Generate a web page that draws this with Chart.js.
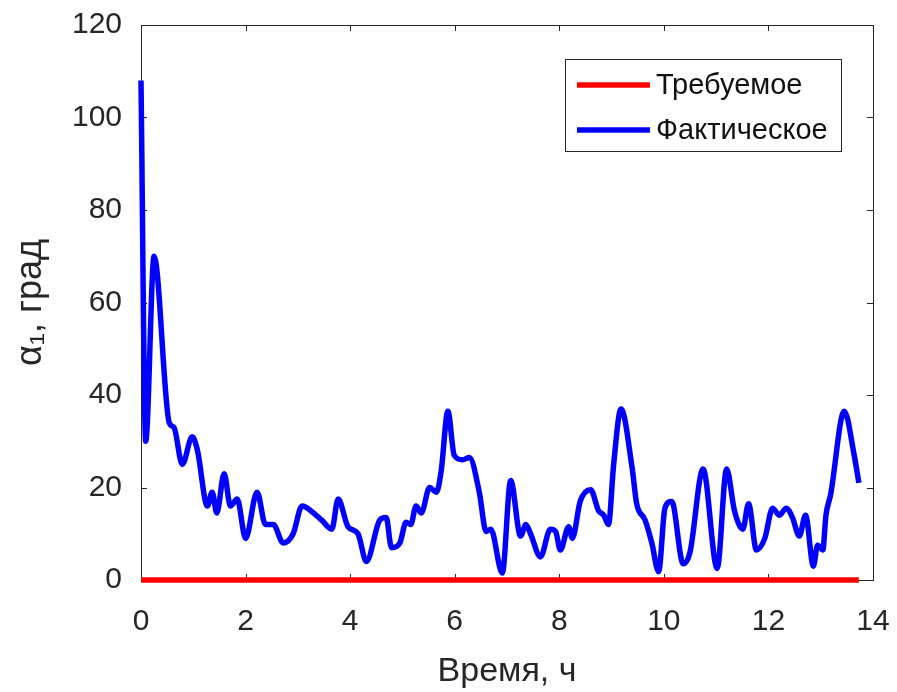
<!DOCTYPE html>
<html>
<head>
<meta charset="utf-8">
<script src="https://cdn.jsdelivr.net/npm/chart.js@4.4.1/dist/chart.umd.min.js"></script>
<style>
  html, body { margin: 0; padding: 0; background: #ffffff; }
  #wrap { width: 897px; height: 692px; }
</style>
</head>
<body>
<div id="wrap"><canvas id="c" width="897" height="692"></canvas></div>
<script>
// ---- data ----
const timeHours = [0, 0.09, 0.25, 0.54, 0.63, 0.79, 0.98, 1.08, 1.27, 1.36, 1.45, 1.59, 1.71, 1.84, 2.0, 2.22, 2.38, 2.53, 2.72, 2.91,
  3.08, 3.3, 3.45, 3.65, 3.77, 3.96, 4.15, 4.31, 4.57, 4.69, 4.79, 4.95, 5.07, 5.16, 5.26, 5.36, 5.52, 5.65, 5.74, 5.87,
  5.99, 6.15, 6.28, 6.47, 6.6, 6.69, 6.91, 7.07, 7.26, 7.36, 7.45, 7.64, 7.83, 7.93, 8.02, 8.18, 8.25, 8.4, 8.6, 8.75,
  8.85, 8.94, 9.04, 9.18, 9.39, 9.48, 9.64, 9.77, 9.9, 10.02, 10.15, 10.37, 10.5, 10.75, 11.02, 11.2, 11.35, 11.51, 11.62, 11.77,
  11.93, 12.08, 12.21, 12.34, 12.46, 12.59, 12.71, 12.86, 12.94, 13.04, 13.1, 13.19, 13.45, 13.64, 13.73];
const actualAlpha = [108, 30, 70, 34, 33, 25, 31, 28, 16, 19, 14.5, 23, 16, 17.5, 9, 19, 12, 12, 8, 10,
  16, 14.5, 13, 11, 17.5, 11.5, 10, 4, 13, 13.5, 7, 8, 12.5, 12, 16, 14.5, 20, 19, 23.5, 36.5,
  27, 26, 26.5, 19, 10.5, 11, 1.5, 21.5, 9.5, 12, 10, 5, 11, 10.5, 6.5, 11.5, 9, 17, 19.5, 15,
  14, 12, 25, 37, 24.5, 16.5, 13, 8, 1.8, 15.5, 17, 3.5, 6, 24, 2.5, 24, 15, 11, 16.5, 6.5,
  9, 15.5, 14, 15.5, 13.5, 9.5, 14, 3, 7.5, 6.5, 14, 18.5, 36.5, 27, 21];
const requiredTime = [0, 13.73];
const requiredAlpha = [0, 0];
const seriesNames = ['Требуемое', 'Фактическое'];
const xTickValues = [0, 2, 4, 6, 8, 10, 12, 14];
const yTickValues = [0, 20, 40, 60, 80, 100, 120];
const xTitle = 'Время, ч';
const yTitle = 'α₁, град';

const toPoints = (xs, ys) => xs.map((x, i) => ({ x: x, y: ys[i] }));

const TEXT = '#262626';
const FONT = "'Liberation Sans', Arial, Helvetica, sans-serif";

const framePlugin = {
  id: 'frame',
  beforeDatasetsDraw(chart) {
    const { ctx, chartArea: a, scales } = chart;
    ctx.save();
    ctx.strokeStyle = TEXT;
    ctx.lineWidth = 1;
    ctx.strokeRect(Math.round(a.left) + 0.5, Math.round(a.top) + 0.5,
      Math.round(a.right - a.left), Math.round(a.bottom - a.top));
    const tl = 6;
    ctx.beginPath();
    xTickValues.forEach(v => {
      const px = Math.round(scales.x.getPixelForValue(v)) + 0.5;
      ctx.moveTo(px, a.bottom); ctx.lineTo(px, a.bottom - tl);
      ctx.moveTo(px, a.top); ctx.lineTo(px, a.top + tl);
    });
    yTickValues.forEach(v => {
      const py = Math.round(scales.y.getPixelForValue(v)) + 0.5;
      ctx.moveTo(a.left, py); ctx.lineTo(a.left + tl, py);
      ctx.moveTo(a.right, py); ctx.lineTo(a.right - tl, py);
    });
    ctx.stroke();
    ctx.restore();
  },
  afterDraw(chart) {
    const { ctx } = chart;
    const ds = chart.data.datasets;
    ctx.save();
    const bx = 565.5, by = 59.5, bw = 276, bh = 92;
    ctx.fillStyle = '#ffffff';
    ctx.fillRect(bx, by, bw, bh);
    ctx.strokeStyle = TEXT;
    ctx.lineWidth = 1;
    ctx.strokeRect(bx, by, bw, bh);
    const rows = [85, 130];
    ctx.font = '29px ' + FONT;
    ctx.textBaseline = 'middle';
    ctx.textAlign = 'left';
    ds.forEach((d, i) => {
      ctx.strokeStyle = d.borderColor;
      ctx.lineWidth = 5.5;
      ctx.beginPath();
      ctx.moveTo(577, rows[i]);
      ctx.lineTo(650, rows[i]);
      ctx.stroke();
      ctx.fillStyle = '#111111';
      ctx.fillText(d.label, 656, rows[i] + 1);
    });
    ctx.restore();
  }
};

new Chart(document.getElementById('c'), {
  type: 'line',
  data: {
    datasets: [
      {
        label: seriesNames[0],
        data: toPoints(requiredTime, requiredAlpha),
        borderColor: '#ff0000',
        borderWidth: 5.5,
        pointRadius: 0,
        clip: 8,
        order: 2
      },
      {
        label: seriesNames[1],
        data: toPoints(timeHours, actualAlpha),
        borderColor: '#0000ff',
        borderWidth: 5.5,
        pointRadius: 0,
        clip: 8,
        cubicInterpolationMode: 'monotone',
        order: 1
      }
    ]
  },
  options: {
    responsive: false,
    animation: false,
    layout: { padding: { top: 25, right: 24, bottom: 0, left: 0 } },
    plugins: { legend: { display: false }, tooltip: { enabled: false } },
    scales: {
      x: {
        type: 'linear',
        min: 0, max: 14,
        afterBuildTicks: s => { s.ticks = xTickValues.map(v => ({ value: v })); },
        afterFit: s => { s.height = 112; s.paddingLeft = 0; s.paddingRight = 0; },
        grid: { display: false, drawTicks: false },
        border: { display: false },
        ticks: { color: TEXT, padding: 24, font: { family: FONT, size: 30 }, maxRotation: 0 },
        title: { display: true, text: xTitle, color: TEXT, font: { family: FONT, size: 34 }, padding: { top: 0, bottom: 0 } }
      },
      y: {
        type: 'linear',
        min: 0, max: 120,
        afterBuildTicks: s => { s.ticks = yTickValues.map(v => ({ value: v })); },
        afterFit: s => { s.width = 141; s.paddingTop = 0; s.paddingBottom = 0; },
        grid: { display: false, drawTicks: false },
        border: { display: false },
        ticks: { color: TEXT, padding: 19, font: { family: FONT, size: 30 } },
        title: { display: true, text: yTitle, color: TEXT, font: { family: FONT, size: 36 }, padding: { top: 9, bottom: 0 } }
      }
    }
  },
  plugins: [framePlugin]
});
</script>
</body>
</html>
